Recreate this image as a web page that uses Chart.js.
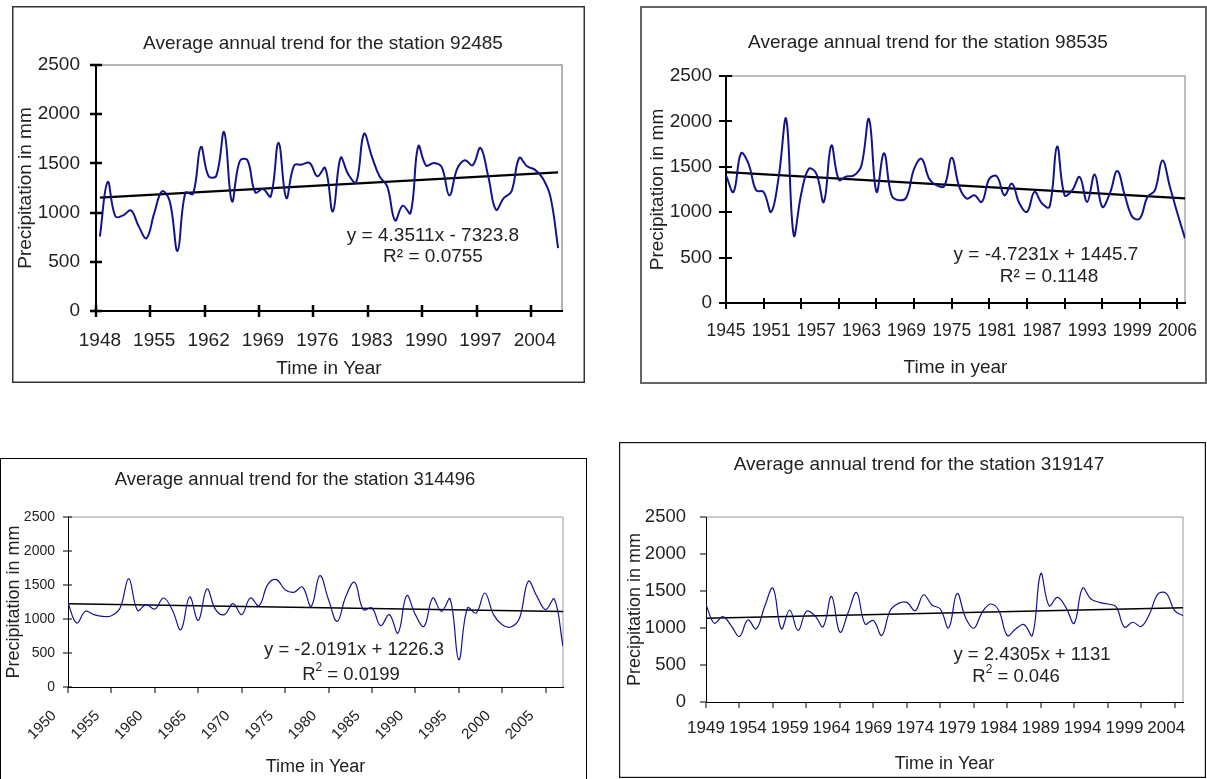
<!DOCTYPE html>
<html>
<head>
<meta charset="utf-8">
<script src="https://cdn.jsdelivr.net/npm/chart.js@4.4.0/dist/chart.umd.min.js"></script>
<style>
  body { margin: 0; background: #fff; width: 1207px; height: 779px; overflow: hidden; position: relative; }
  canvas { position: absolute; }
</style>
</head>
<body>
<canvas id="c92485"></canvas>
<canvas id="c98535"></canvas>
<canvas id="c314496"></canvas>
<canvas id="c319147"></canvas>
<script>
function yearRange(first, count) { return Array.from({ length: count }, (_, i) => first + i); }

// station 92485
const years92485 = yearRange(1948, 60);
const rain92485 = [757, 1311, 961, 972, 1022, 860, 740, 995, 1216, 1114, 611, 1200, 1192, 1668, 1369,
  1376, 1817, 1114, 1522, 1532, 1206, 1240, 1165, 1709, 1148, 1478, 1488, 1505, 1369, 1454,
  1012, 1556, 1386, 1308, 1800, 1573, 1369, 1267, 921, 1070, 995, 1675, 1478, 1505, 1464,
  1175, 1444, 1532, 1481, 1658, 1369, 1029, 1148, 1216, 1556, 1471, 1437, 1352, 1165, 639];
const trend92485 = [1152, 1409];
const labels92485 = ['1948', '1955', '1962', '1969', '1976', '1983', '1990', '1997', '2004'];

// station 98535
const years98535 = yearRange(1945, 62);
const rain98535 = [1405, 1223, 1650, 1533, 1241, 1223, 1004, 1387, 2026, 748, 1204, 1478, 1424, 1113, 1734,
  1358, 1394, 1405, 1515, 2026, 1223, 1650, 1186, 1132, 1168, 1478, 1588, 1369, 1296, 1285,
  1599, 1278, 1150, 1186, 1113, 1369, 1394, 1186, 1314, 1095, 1004, 1223, 1095, 1059, 1723,
  1186, 1241, 1387, 1113, 1416, 1059, 1204, 1453, 1186, 949, 931, 1168, 1241, 1570, 1278, 986, 712];
const trend98535 = [1441, 1153];
const labels98535 = ['1945', '1951', '1957', '1963', '1969', '1975', '1981', '1987', '1993', '1999', '2006'];

// station 314496
const years314496 = yearRange(1950, 58);
const rain314496 = [1235, 941, 1113, 1064, 1039, 1049, 1162, 1593, 1127, 1211, 1147, 1309, 1137, 843, 1324,
  980, 1441, 1137, 1064, 1226, 1064, 1309, 1196, 1505, 1578, 1431, 1392, 1471, 1186, 1637,
  1284, 966, 1333, 1539, 1137, 1162, 902, 1064, 794, 1343, 1064, 892, 1309, 1113, 1294,
  402, 1162, 1088, 1382, 1064, 917, 882, 1015, 1554, 1333, 1137, 1294, 598];
const trend314496 = [1224, 1109];
const labels314496 = ['1950', '1955', '1960', '1965', '1970', '1975', '1980', '1985', '1990', '1995', '2000', '2005'];

// station 319147
const years319147 = yearRange(1949, 58);
const rain319147 = [1315, 1064, 1154, 1033, 885, 1109, 988, 1288, 1538, 988, 1243, 966, 1225, 1167, 1020,
  1427, 944, 1212, 1480, 1055, 1100, 899, 1234, 1333, 1346, 1234, 1449, 1310, 1257, 1002,
  1467, 1145, 997, 1212, 1324, 1234, 899, 988, 1046, 899, 1735, 1301, 1413, 1279, 1064,
  1538, 1391, 1346, 1324, 1288, 1011, 1078, 1020, 1190, 1458, 1467, 1234, 1167];
const trend319147 = [1133, 1272];
const labels319147 = ['1949', '1954', '1959', '1964', '1969', '1974', '1979', '1984', '1989', '1994', '1999', '2004'];

const yTickValues = [0, 500, 1000, 1500, 2000, 2500];
const FONT = '"Liberation Sans", Arial, sans-serif';
Chart.defaults.font.family = FONT;
Chart.defaults.color = '#222';

const decor = {
  id: 'decor',
  beforeDraw(chart, args, o) {
    const { ctx, chartArea: a } = chart;
    ctx.save();
    ctx.strokeStyle = o.boxColor;
    ctx.lineWidth = o.boxWidth;
    const h = o.openBottom ? chart.height + 10 : chart.height;
    ctx.strokeRect(o.boxWidth / 2, o.boxWidth / 2, chart.width - o.boxWidth, h - o.boxWidth);
    ctx.strokeStyle = o.frameColor;
    ctx.lineWidth = o.frameWidth;
    ctx.beginPath();
    ctx.moveTo(a.left, a.top);
    ctx.lineTo(a.right, a.top);
    ctx.lineTo(a.right, a.bottom);
    ctx.stroke();
    ctx.restore();
  },
  afterDraw(chart, args, o) {
    const { ctx, chartArea: a } = chart;
    const xs = chart.scales.x, ys = chart.scales.y;
    ctx.save();
    ctx.strokeStyle = '#000';
    ctx.lineWidth = o.tickWidth;
    ctx.beginPath();
    o.tickYears.forEach(v => {
      const px = Math.round(xs.getPixelForValue(v));
      ctx.moveTo(px, a.bottom - o.xTickUp);
      ctx.lineTo(px, a.bottom + o.xTickDown);
    });
    yTickValues.forEach(v => {
      const py = Math.round(ys.getPixelForValue(v));
      ctx.moveTo(a.left - o.yTickOut, py);
      ctx.lineTo(a.left + o.yTickIn, py);
    });
    ctx.stroke();

    ctx.fillStyle = '#222';
    ctx.textAlign = 'center';
    ctx.textBaseline = 'middle';
    ctx.font = o.titleSize + 'px ' + FONT;
    ctx.fillText(o.title, o.titleX, o.titleY);

    ctx.font = o.eqSize + 'px ' + FONT;
    ctx.fillText(o.eq, o.eqX, o.eqY);
    if (!o.sup) {
      ctx.fillText('R\u00B2 = ' + o.r2, o.r2X, o.r2Y);
    } else {
      const small = Math.round(o.eqSize * 0.65) + 'px ' + FONT;
      const norm = o.eqSize + 'px ' + FONT;
      const rest = ' = ' + o.r2;
      const wR = ctx.measureText('R').width;
      const wRest = ctx.measureText(rest).width;
      ctx.font = small;
      const w2 = ctx.measureText('2').width;
      const x = o.r2X - (wR + w2 + wRest) / 2;
      ctx.textAlign = 'left';
      ctx.font = norm;
      ctx.fillText('R', x, o.r2Y);
      ctx.font = small;
      ctx.fillText('2', x + wR, o.r2Y - o.eqSize * 0.38);
      ctx.font = norm;
      ctx.fillText(rest, x + wR + w2, o.r2Y);
    }
    ctx.restore();
  }
};

function makePanel(id, p) {
  const [bl, bt, br, bb] = p.box;
  const [pl, pt, pr, pb] = p.plot;
  const canvas = document.getElementById(id);
  canvas.style.left = bl + 'px';
  canvas.style.top = bt + 'px';
  canvas.width = br - bl;
  canvas.height = bb - bt;

  new Chart(canvas, {
    type: 'line',
    data: {
      datasets: [
        {
          data: p.years.map((y, i) => ({ x: y, y: p.rain[i] })),
          borderColor: '#14148a',
          borderWidth: p.lineWidth,
          tension: 0.4,
          pointRadius: 0
        },
        {
          data: [{ x: p.years[0], y: p.trend[0] }, { x: p.years[p.years.length - 1], y: p.trend[1] }],
          borderColor: '#000',
          borderWidth: p.trendWidth,
          pointRadius: 0
        }
      ]
    },
    options: {
      responsive: false,
      animation: false,
      events: [],
      layout: { padding: { left: 0, top: pt - bt, right: br - pr, bottom: 0 } },
      plugins: {
        legend: { display: false },
        tooltip: { enabled: false },
        decor: p.decor
      },
      scales: {
        x: {
          type: 'linear',
          min: p.xMin,
          max: p.xMax,
          // labels sit every labelStep years from the first year, as in the source chart
          afterBuildTicks: s => { s.ticks = p.labels.map((t, i) => ({ value: p.years[0] + i * p.labelStep })); },
          afterFit: s => { s.height = bb - pb; s.paddingLeft = 0; s.paddingRight = 0; },
          grid: { drawOnChartArea: false, drawTicks: false },
          border: { color: '#000', width: p.axisWidth },
          ticks: {
            autoSkip: false,
            maxRotation: p.rotation,
            minRotation: p.rotation,
            padding: p.xPad,
            labelOffset: p.xLabelOffset,
            font: { size: p.xFont },
            callback: (v, i) => p.labels[i]
          },
          title: { display: true, text: p.xTitle, font: { size: p.axisTitleSize }, padding: { top: 0, bottom: p.xTitlePad } }
        },
        y: {
          min: 0,
          max: 2500,
          afterFit: s => { s.width = pl - bl; s.paddingTop = 0; s.paddingBottom = 0; },
          grid: { drawOnChartArea: false, drawTicks: false },
          border: { color: '#000', width: p.axisWidth },
          ticks: { stepSize: 500, padding: p.yPad, font: { size: p.yFont }, callback: v => String(v) },
          title: { display: true, text: 'Precipitation in mm', font: { size: p.axisTitleSize }, padding: { top: p.yTitlePad, bottom: 0 } }
        }
      }
    },
    plugins: [decor]
  });
}

makePanel('c92485', {
  box: [12, 6, 585, 383], plot: [96, 65, 562, 311],
  years: years92485, rain: rain92485, trend: trend92485, labels: labels92485, labelStep: 7,
  xMin: 1947.5, xMax: 2007.5, lineWidth: 2, trendWidth: 2.2, axisWidth: 2,
  rotation: 0, xPad: 18, xLabelOffset: 0, xFont: 19, yFont: 19, yPad: 16,
  xTitle: 'Time in Year', axisTitleSize: 19, xTitlePad: 3, yTitlePad: 2,
  decor: {
    boxColor: '#333', boxWidth: 1.5, openBottom: false, frameColor: '#9a9a9a', frameWidth: 1.5,
    tickYears: [1947.5, 1954.5, 1961.5, 1968.5, 1975.5, 1982.5, 1989.5, 1996.5, 2003.5],
    tickWidth: 2.5, xTickUp: 6, xTickDown: 6, yTickOut: 6, yTickIn: 6,
    title: 'Average annual trend for the station 92485', titleSize: 19, titleX: 311, titleY: 38,
    eq: 'y = 4.3511x - 7323.8', r2: '0.0755', sup: false, eqSize: 19,
    eqX: 421, eqY: 230, r2X: 421, r2Y: 251
  }
});

makePanel('c98535', {
  box: [640, 6, 1207, 384], plot: [726, 76, 1185, 303],
  years: years98535, rain: rain98535, trend: trend98535, labels: labels98535, labelStep: 6,
  xMin: 1945, xMax: 2006, lineWidth: 2, trendWidth: 2.2, axisWidth: 2,
  rotation: 0, xPad: 18, xLabelOffset: 0, xFont: 17.5, yFont: 19, yPad: 14,
  xTitle: 'Time in year', axisTitleSize: 19, xTitlePad: 5, yTitlePad: 6,
  decor: {
    boxColor: '#666', boxWidth: 2, openBottom: false, frameColor: '#a8a8a8', frameWidth: 1.5,
    tickYears: [1945, 1950, 1955, 1960, 1965, 1970, 1975, 1980, 1985, 1990, 1995, 2000, 2005],
    tickWidth: 2, xTickUp: 5, xTickDown: 6, yTickOut: 7, yTickIn: 6,
    title: 'Average annual trend for the station 98535', titleSize: 19, titleX: 288, titleY: 37,
    eq: 'y = -4.7231x + 1445.7', r2: '0.1148', sup: false, eqSize: 19,
    eqX: 406, eqY: 249, r2X: 409, r2Y: 271
  }
});

makePanel('c314496', {
  box: [0, 458, 587, 779], plot: [68, 517, 563, 687],
  years: years314496, rain: rain314496, trend: trend314496, labels: labels314496, labelStep: 5,
  xMin: 1950, xMax: 2007, lineWidth: 1.2, trendWidth: 1.5, axisWidth: 1,
  rotation: 45, xPad: 20, xLabelOffset: -14, xFont: 15, yFont: 14, yPad: 13,
  xTitle: 'Time in Year', axisTitleSize: 18, xTitlePad: 1, yTitlePad: 3,
  decor: {
    boxColor: '#000', boxWidth: 1, openBottom: true, frameColor: '#999', frameWidth: 1,
    tickYears: [1950, 1955, 1960, 1965, 1970, 1975, 1980, 1985, 1990, 1995, 2000, 2005],
    tickWidth: 1, xTickUp: 0, xTickDown: 6, yTickOut: 5, yTickIn: 4,
    title: 'Average annual trend for the station 314496', titleSize: 18.5, titleX: 295, titleY: 22,
    eq: 'y = -2.0191x + 1226.3', r2: '0.0199', sup: true, eqSize: 18.5,
    eqX: 354, eqY: 192, r2X: 351, r2Y: 217
  }
});

makePanel('c319147', {
  box: [619, 442, 1206, 778], plot: [706, 517, 1183, 702],
  years: years319147, rain: rain319147, trend: trend319147, labels: labels319147, labelStep: 5,
  xMin: 1949, xMax: 2006, lineWidth: 1.2, trendWidth: 1.5, axisWidth: 1,
  rotation: 0, xPad: 16, xLabelOffset: 0, xFont: 17, yFont: 18.5, yPad: 20,
  xTitle: 'Time in Year', axisTitleSize: 18, xTitlePad: 3, yTitlePad: 5,
  decor: {
    boxColor: '#111', boxWidth: 1.2, openBottom: false, frameColor: '#999', frameWidth: 1,
    tickYears: [1949, 1953, 1957, 1961, 1965, 1969, 1973, 1977, 1981, 1985, 1989, 1993, 1997, 2001, 2005],
    tickWidth: 1, xTickUp: 0, xTickDown: 6, yTickOut: 6, yTickIn: 0,
    title: 'Average annual trend for the station 319147', titleSize: 19, titleX: 300, titleY: 23,
    eq: 'y = 2.4305x + 1131', r2: '0.046', sup: true, eqSize: 18.5,
    eqX: 413, eqY: 213, r2X: 397, r2Y: 235
  }
});
</script>
</body>
</html>
